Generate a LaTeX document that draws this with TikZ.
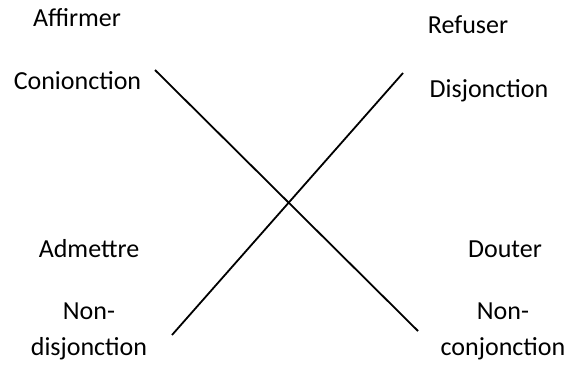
\documentclass[tikz,border=0pt]{standalone}
\usepackage{fontspec}
\setmainfont{Carlito}
\usepackage{tikz}
\usetikzlibrary{positioning}
\tikzset{
    mot/.style = {anchor=base, inner sep=0pt, align=center, font=\fontsize{26}{36}\selectfont},
    trait/.style = {line width=1.8pt, black}
}

\begin{document}
\begin{tikzpicture}[x=1pt,y=-1pt]
    \useasboundingbox (0,0) rectangle (570,364);
    % top left / top right
    \node[mot] (affirmer) at (77,27) {Affirmer};
    \node[mot] (conj) at (77.5,89) {Conionction};
    \node[mot] (refuser) at (468,33) {Refuser};
    \node[mot] (disj) at (489,97) {Disjonction};
    % bottom left / bottom right (base = last line)
    \node[mot] (admettre) at (89,257) {Admettre};
    \node[mot] (nondisj) at (89,355) {Non-\\disjonction};
    \node[mot] (douter) at (505,257) {Douter};
    \node[mot] (nonconj) at (503,355) {Non-\\conjonction};
    % ends of the two crossing lines
    \coordinate (a1) at (155,70);
    \coordinate (a2) at (418,331);
    \coordinate (b1) at (403,73);
    \coordinate (b2) at (172,335);
    \draw[trait] (a1) -- (a2);
    \draw[trait] (b1) -- (b2);
\end{tikzpicture}
\end{document}
